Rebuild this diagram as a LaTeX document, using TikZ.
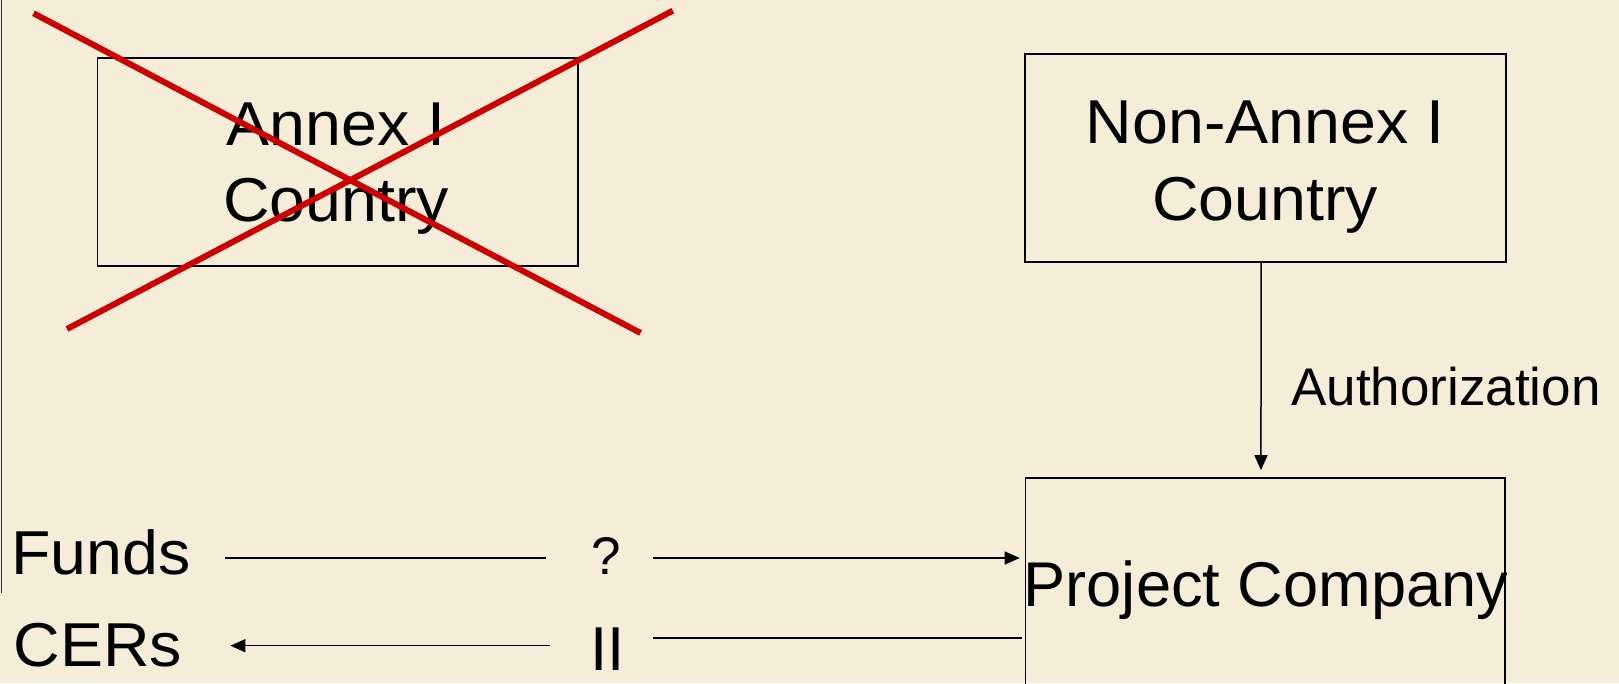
\documentclass[tikz,border=0pt]{standalone}
\usepackage{fontspec}
\setmainfont{Liberation Sans}
\newfontfamily\widesans[FakeStretch=1.04]{Liberation Sans}
\usetikzlibrary{arrows.meta}
\definecolor{paper}{RGB}{245,237,216}
\definecolor{cross}{RGB}{204,0,0}
\begin{document}
\begin{tikzpicture}[x=1pt,y=-1pt,
  box/.style={draw=black, line width=1.6pt, inner sep=0pt},
  lbl/.style={inner sep=0pt, text=black},
  ln/.style={draw=black, line width=1.5pt},
  arr/.style={ln, -{Triangle[length=15pt,width=13pt]}},
  strike/.style={draw=cross, line width=6pt}]
\useasboundingbox (0,0) rectangle (1619,683);
\fill[paper] (0,0) rectangle (1619,683);
\clip (0,0) rectangle (1619,683);

% margin rule on the left
\draw[black!80, line width=1.4pt] (1.5,0) -- (1.5,593);

% boxes
\node[box, minimum width=480.4pt, minimum height=208.3pt] (annex) at (337.5,161.85) {};
\node[box, minimum width=480.7pt, minimum height=207.7pt] (nonannex) at (1265.35,157.85) {};
\node[box, minimum width=479.5pt, minimum height=300pt] (project) at (1265.25,628) {};

% box texts
\node[lbl, font=\widesans\fontsize{62}{76}\selectfont, align=center, text depth=0pt] (annexlbl) at (336,162.3) {Annex I\\Country};
\node[lbl, font=\widesans\fontsize{62}{77}\selectfont, align=center, text depth=0pt] (nonannexlbl) at (1265,160.2) {Non-Annex I\\Country};
\node[lbl, font=\fontsize{63.2}{76}\selectfont, anchor=base] (projectlbl) at (1266,606) {Project Company};

% side labels
\node[lbl, font=\fontsize{53}{64}\selectfont, anchor=base west] (auth) at (1291,405.7) {Authorization};
\node[lbl, font=\widesans\fontsize{62}{76}\selectfont, anchor=base west] (funds) at (11.3,574) {Funds};
\node[lbl, font=\widesans\fontsize{62}{76}\selectfont, anchor=base west] (cers) at (13.6,666.7) {CERs};
\node[lbl, font=\fontsize{53}{64}\selectfont, anchor=base] (q) at (606.5,574) {?};
\node[lbl, font=\fontsize{62}{76}\selectfont, anchor=base] (ii) at (607.5,670) {II};

% rows of the horizontal connectors
\coordinate (row1) at (0,558);
\coordinate (row2a) at (0,645.7);
\coordinate (row2b) at (0,638);

% authorization arrow
\draw[arr, shorten >=7pt] ([xshift=-4.3pt]nonannex.south) -- ([xshift=-4.3pt]project.north);

% funds flow: Funds -> ? -> Project Company
\draw[ln, shorten <=34pt, shorten >=45.7pt] (funds.east |- row1) -- (q.west |- row1);
\draw[arr, shorten <=31.3pt, shorten >=5pt] (q.east |- row1) -- (project.west |- row1);

% CER flow: Project Company -> II -> CERs
\draw[arr, shorten <=40.2pt, shorten >=48pt] (ii.west |- row2a) -- (cers.east |- row2a);
\draw[ln, shorten <=28pt, shorten >=3pt] (ii.east |- row2b) -- (project.west |- row2b);

% crossing-out of the Annex I box
\draw[strike] (33.5,13.3) -- (640.6,333);
\draw[strike] (67,329) -- (672.8,10.7);
\end{tikzpicture}
\end{document}
